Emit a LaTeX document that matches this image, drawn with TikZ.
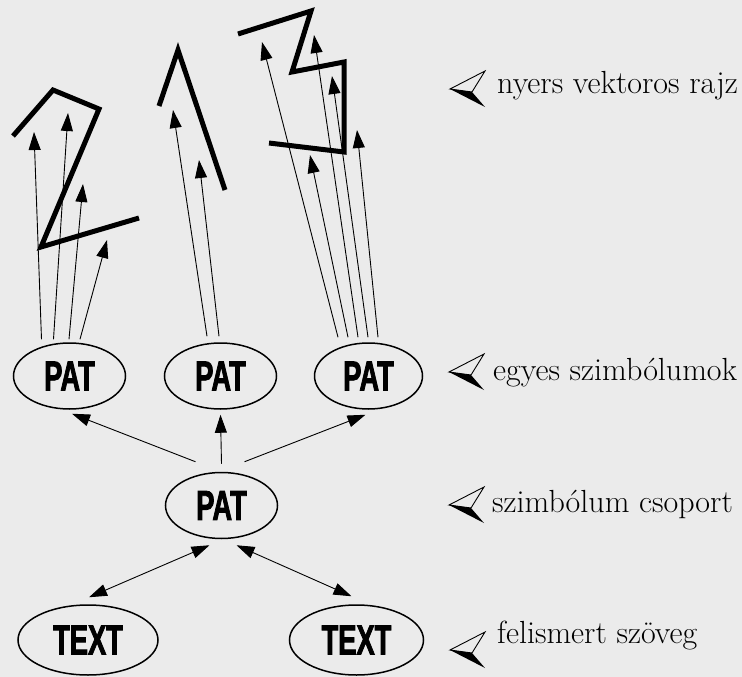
\documentclass[tikz,border=0pt]{standalone}
\usepackage{fontspec}
\usetikzlibrary{arrows.meta,shapes.geometric}
\newfontfamily\patfont{Liberation Sans}[FakeStretch=0.65,FakeBold=1.8]
\definecolor{paper}{RGB}{235,235,235}
\tikzset{
  pat/.style={ellipse,draw,line width=1.5pt,inner sep=0pt,minimum width=112pt,minimum height=66pt,
    font=\patfont\bfseries\fontsize{42}{44}\selectfont},
  txt/.style={pat,minimum width=140pt,minimum height=70pt},
  arr/.style={line width=0.9pt,-{Triangle[length=18pt,width=12pt]}},
  darr/.style={line width=0.9pt,{Triangle[length=18pt,width=12pt]}-{Triangle[length=18pt,width=12pt]}},
  stroke/.style={line width=5pt,line join=miter},
  lbl/.style={anchor=base west,inner sep=0pt,font=\fontsize{32}{36}\selectfont},
  pointer/.pic={
    \draw[line width=0.9pt,line join=miter] (0,0) -- (35,18) -- (22,-3) -- cycle;
    \fill (0,0) -- (22,-3) -- (35,-18) -- cycle;
  }
}
\begin{document}
\begin{tikzpicture}[x=1pt,y=1pt]
\fill[paper] (0,0) rectangle (742,-677);
\useasboundingbox (0,0) rectangle (742,-677);

\node[pat] (pat1) at (69.5,-376) {PAT};
\node[pat] (pat2) at (220.5,-376) {PAT};
\node[pat,minimum width=108pt] (pat3) at (368.5,-376) {PAT};
\node[pat] (grp) at (221.5,-505.5) {PAT};
\node[txt] (txt1) at (88,-640) {TEXT};
\node[txt,minimum width=134pt] (txt2) at (356.5,-640) {TEXT};

% nyers vektoros rajz
\coordinate (a1) at (13,-136);
\coordinate (a2) at (53,-90);
\coordinate (a3) at (99,-109);
\coordinate (a4) at (41,-247);
\coordinate (a5) at (139,-218);
\draw[stroke] (a1) -- (a2) -- (a3) -- (a4) -- (a5);

\coordinate (b1) at (159,-106);
\coordinate (b2) at (178,-50);
\coordinate (b3) at (225,-190);
\draw[stroke] (b1) -- (b2) -- (b3);

\coordinate (c1) at (238,-34);
\coordinate (c2) at (311,-11);
\coordinate (c3) at (292,-72);
\coordinate (c4) at (344,-62);
\coordinate (c5) at (344,-152);
\coordinate (c6) at (269,-143);
\draw[stroke] (c1) -- (c2) -- (c3) -- (c4) -- (c5) -- (c6);

\coordinate (ta1) at (34,-132);
\coordinate (ta2) at (68,-113);
\coordinate (ta3) at (83,-184);
\coordinate (ta4) at (107,-240);
\draw[arr] ([shift={(-28,3)}]pat1.north) -- (ta1);
\draw[arr] ([shift={(-16,3)}]pat1.north) -- (ta2);
\draw[arr] ([shift={(-0.5,3)}]pat1.north) -- (ta3);
\draw[arr] ([shift={(10.5,3)}]pat1.north) -- (ta4);

\coordinate (tb1) at (173,-110);
\coordinate (tb2) at (199,-160);
\draw[arr] ([shift={(-13.5,6)}]pat2.north) -- (tb1);
\draw[arr] ([shift={(-1.5,6)}]pat2.north) -- (tb2);

\coordinate (tc1) at (262,-42);
\coordinate (tc2) at (310,-155);
\coordinate (tc3) at (314,-35);
\coordinate (tc4) at (332,-76);
\coordinate (tc5) at (357,-130);
\draw[arr] ([shift={(-30.5,5)}]pat3.north) -- (tc1);
\draw[arr] ([shift={(-20.5,5)}]pat3.north) -- (tc2);
\draw[arr] ([shift={(-10.5,5)}]pat3.north) -- (tc3);
\draw[arr] ([shift={(-0.5,5)}]pat3.north) -- (tc4);
\draw[arr] ([shift={(9.5,5)}]pat3.north) -- (tc5);

% csoport
\draw[arr] ([shift={(-26,10)}]grp.north) -- ([shift={(2.5,-4)}]pat1.south);
\draw[arr] ([shift={(0,8)}]grp.north) -- ([shift={(0,-5)}]pat2.south);
\draw[arr] ([shift={(23,10)}]grp.north) -- ([shift={(-3,-5)}]pat3.south);
\draw[darr] ([shift={(1,7)}]txt1.north) -- ([shift={(-12,-6)}]grp.south);
\draw[darr] ([shift={(15,-6)}]grp.south) -- ([shift={(-5,8)}]txt2.north);

\pic at (450,-89) {pointer};
\node[lbl] (rawlbl) at (497,-93) {nyers vektoros rajz};
\pic at (449,-372) {pointer};
\node[lbl] (symlbl) at (493,-380) {egyes szimbólumok};
\pic at (449,-505) {pointer};
\node[lbl] (grplbl) at (492,-512) {szimbólum csoport};
\pic at (450,-650) {pointer};
\node[lbl] (txtlbl) at (497,-643) {felismert szöveg};

\end{tikzpicture}
\end{document}
